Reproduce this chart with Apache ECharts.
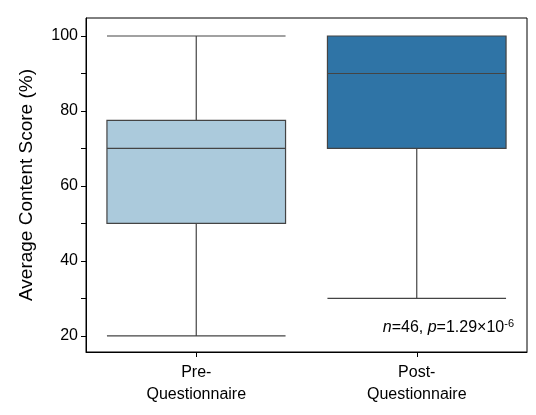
<!DOCTYPE html>
<html><head><meta charset="utf-8">
<script src="https://cdn.jsdelivr.net/npm/echarts@6/dist/echarts.min.js"></script>
<style>body{margin:0}#c{width:536px;height:415px}</style></head>
<body><div id="c"></div>
<script>
const categories = ['Pre-\nQuestionnaire', 'Post-\nQuestionnaire'];
// [min, Q1, median, Q3, max]
const boxValues = [[20, 50, 70, 77.5, 100], [30, 70, 90, 100, 100]];
const boxColors = ['#abcadc', '#2f74a6'];
const tickValues = [20, 30, 40, 50, 60, 70, 80, 90, 100];
const labelValues = [20, 40, 60, 80, 100];
const ff = 'Liberation Sans, Arial, sans-serif';
const chart = echarts.init(document.getElementById('c'));
chart.setOption({
  animation: false,
  grid: {left: 86, right: 9, top: 18, bottom: 63, show: true, borderColor: '#000', borderWidth: 1},
  xAxis: {type: 'category', data: categories,
    axisLine: {lineStyle: {color: '#000'}}, axisTick: {show: true, alignWithLabel: true, length: 5, lineStyle: {color: '#000'}},
    axisLabel: {color: '#000', fontSize: 16, fontFamily: ff, lineHeight: 22, margin: 10}},
  yAxis: {type: 'value', min: 15.7, max: 104.8, name: 'Average Content Score (%)', nameLocation: 'middle', nameGap: 50,
    nameTextStyle: {color: '#000', fontSize: 19, fontFamily: ff},
    axisLine: {show: true, lineStyle: {color: '#000'}},
    axisTick: {show: true, length: 5, customValues: tickValues, lineStyle: {color: '#000'}},
    axisLabel: {color: '#000', fontSize: 16, fontFamily: ff, customValues: labelValues},
    splitLine: {show: false}},
  series: [{type: 'boxplot', boxWidth: ['81%', '81%'],
    data: boxValues.map((v, i) => ({value: v, itemStyle: {color: boxColors[i], borderColor: '#444', borderWidth: 1.2}}))}],
  graphic: [{type: 'text', right: 22, top: 318, style: {
    text: '{i|n}=46, {i|p}=1.29×10{s|-6}', fill: '#000', font: '16px ' + ff,
    rich: {i: {fontStyle: 'italic', fontSize: 16, fontFamily: ff}, s: {fontSize: 11, fontFamily: ff, verticalAlign: 'top', padding: [0,0,8,0]}}}}]
});
</script></body></html>
